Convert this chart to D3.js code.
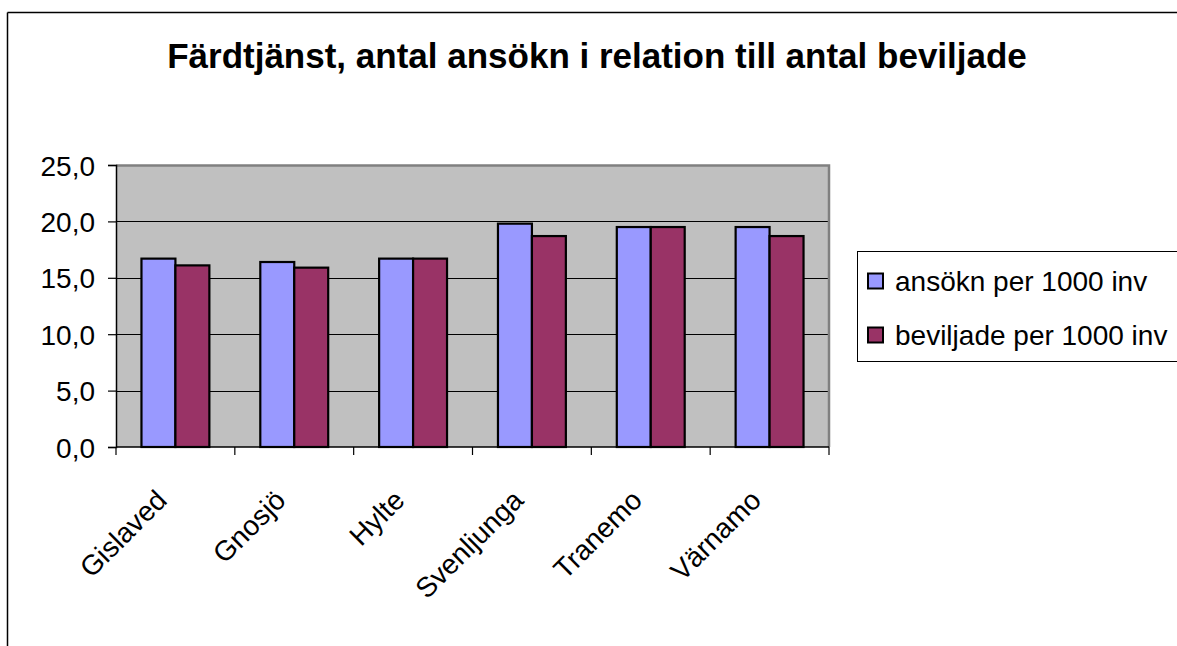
<!DOCTYPE html>
<html>
<head>
<meta charset="utf-8">
<script src="https://cdn.jsdelivr.net/npm/d3@7"></script>
<style>
  html, body { margin: 0; padding: 0; background: #fff; overflow: hidden; }
  svg { display: block; font-family: "Liberation Sans", Arial, sans-serif; }
</style>
</head>
<body>
<svg id="chart" width="1177" height="646"></svg>
<script>
const title = "Färdtjänst, antal ansökn i relation till antal beviljade";
const categories = ["Gislaved", "Gnosjö", "Hylte", "Svenljunga", "Tranemo", "Värnamo"];
const seriesNames = ["ansökn per 1000 inv", "beviljade per 1000 inv"];
const ansokn = [16.7, 16.4, 16.7, 19.8, 19.5, 19.5];
const beviljade = [16.1, 15.9, 16.7, 18.7, 19.5, 18.7];
const yTicks = [0, 5, 10, 15, 20, 25];
const colors = ["#9999FF", "#993366"];

const svg = d3.select("#chart");
const W = 1177, H = 646;
const plot = { left: 116, top: 165, right: 829, bottom: 447 };

// outer frame (top + left visible)
svg.append("line").attr("x1", 7.5).attr("y1", 12.5).attr("x2", W).attr("y2", 12.5)
  .attr("stroke", "#000").attr("stroke-width", 1.5);
svg.append("line").attr("x1", 7.5).attr("y1", 12.5).attr("x2", 7.5).attr("y2", H)
  .attr("stroke", "#000").attr("stroke-width", 1.5);

// title
svg.append("text").attr("x", 597).attr("y", 68).attr("text-anchor", "middle")
  .attr("font-weight", "bold").attr("font-size", 35).attr("fill", "#000").text(title);

const x0 = d3.scaleBand().domain(categories).range([plot.left, plot.right]).padding(0);
// two bars occupy 2/3.5 of each category (gap width 150%)
const x1 = d3.scaleBand().domain([0, 1])
  .range([x0.bandwidth() * 0.75 / 3.5, x0.bandwidth() * 2.75 / 3.5]).padding(0);
const y = d3.scaleLinear().domain([0, 25]).range([plot.bottom, plot.top]);

// plot background
svg.append("rect").attr("x", plot.left).attr("y", plot.top)
  .attr("width", plot.right - plot.left).attr("height", plot.bottom - plot.top)
  .attr("fill", "#C0C0C0");

// gridlines
svg.append("g").selectAll("line").data(yTicks.filter(d => d > 0 && d < 25)).join("line")
  .attr("x1", plot.left).attr("x2", plot.right)
  .attr("y1", d => Math.round(y(d)) + 0.5).attr("y2", d => Math.round(y(d)) + 0.5)
  .attr("stroke", "#000").attr("stroke-width", 1);

// plot border top/right (gray)
svg.append("path")
  .attr("d", `M${plot.left},${plot.top + 0.5}H${plot.right}V${plot.bottom}`)
  .attr("fill", "none").attr("stroke", "#808080").attr("stroke-width", 2.5);

// bars
const data = categories.map((c, i) => ({ c, vals: [ansokn[i], beviljade[i]] }));
const groups = svg.append("g").selectAll("g").data(data).join("g")
  .attr("transform", d => `translate(${x0(d.c)},0)`);
groups.selectAll("rect").data(d => d.vals.map((v, k) => ({ v, k }))).join("rect")
  .attr("x", d => x1(d.k)).attr("width", x1.bandwidth())
  .attr("y", d => y(d.v)).attr("height", d => y(0) - y(d.v))
  .attr("fill", d => colors[d.k]).attr("stroke", "#000").attr("stroke-width", 2.2);

// y axis
const yAxis = d3.axisLeft(y).tickValues(yTicks).tickSize(8).tickPadding(13)
  .tickFormat(d => d3.format(".1f")(d).replace(".", ","));
const gy = svg.append("g").attr("transform", `translate(${plot.left},0)`).call(yAxis);
gy.select(".domain").attr("stroke", "#000").attr("stroke-width", 1.5);
gy.selectAll(".tick line").attr("stroke", "#000").attr("stroke-width", 1.2);
gy.selectAll(".tick text").attr("font-size", 28).attr("fill", "#000")
  .attr("font-family", "'Liberation Sans', Arial, sans-serif").attr("dy", "0.36em");

// x axis with ticks at category boundaries
const gx = svg.append("g").attr("transform", `translate(0,${plot.bottom})`);
gx.append("line").attr("x1", plot.left).attr("x2", plot.right).attr("y1", 0).attr("y2", 0)
  .attr("stroke", "#000").attr("stroke-width", 1.5);
const boundaries = categories.map(c => x0(c)).concat([plot.right]);
gx.selectAll("line.tk").data(boundaries).join("line").attr("class", "tk")
  .attr("x1", d => d).attr("x2", d => d).attr("y1", 0).attr("y2", 8)
  .attr("stroke", "#000").attr("stroke-width", 1.2);
gx.selectAll("text").data(categories).join("text")
  .attr("transform", c => `translate(${x0(c) + x0.bandwidth() / 2 - 21},${41}) rotate(-45)`)
  .attr("text-anchor", "end").attr("dy", "0.71em")
  .attr("font-size", 28).attr("fill", "#000").text(c => c);

// legend
const lg = svg.append("g");
lg.append("rect").attr("x", 857.5).attr("y", 251.5).attr("width", 340).attr("height", 110)
  .attr("fill", "#fff").attr("stroke", "#000").attr("stroke-width", 1);
const rows = [281, 335];
seriesNames.forEach((name, k) => {
  lg.append("rect").attr("x", 868).attr("y", rows[k] - 7.5).attr("width", 15).attr("height", 15)
    .attr("fill", colors[k]).attr("stroke", "#000").attr("stroke-width", 2);
  lg.append("text").attr("x", 895).attr("y", rows[k]).attr("dy", "0.35em")
    .attr("font-size", 28).attr("fill", "#000").text(name);
});
</script>
</body>
</html>
